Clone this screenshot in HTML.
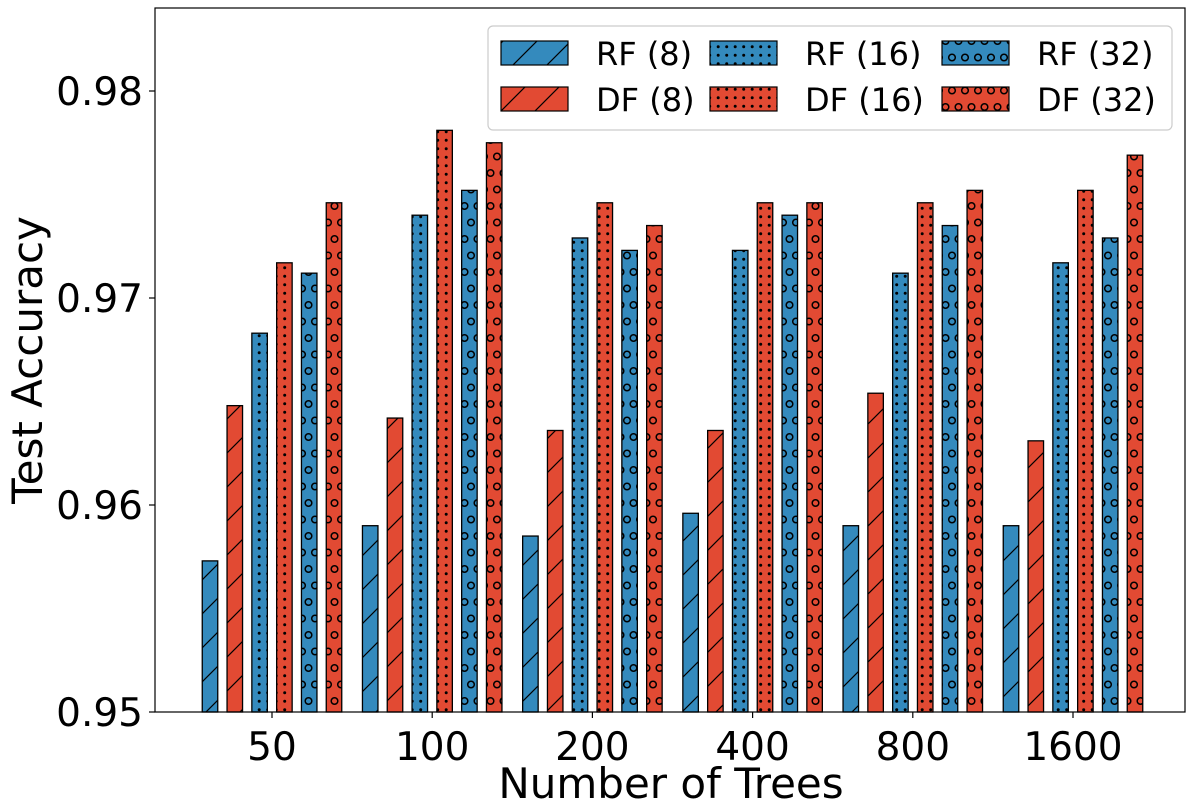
<!DOCTYPE html>
<html><head><meta charset="utf-8"><style>
body{margin:0;background:#fff;}
svg text{font-family:"DejaVu Sans","Liberation Sans",sans-serif;}
</style></head><body>
<svg id="chart" width="1200" height="800" xmlns="http://www.w3.org/2000/svg">
<defs>
<pattern id="h8" patternUnits="userSpaceOnUse" width="34" height="34"><path d="M-2,36 L36,-2 M-19,19 L19,-19 M15,53 L53,15" stroke="#000" stroke-width="1.2"/></pattern>
<pattern id="h16" patternUnits="userSpaceOnUse" width="8.5" height="8.5"><circle cx="4.2" cy="4.2" r="1.5" fill="#000"/></pattern>
<pattern id="h32" patternUnits="userSpaceOnUse" width="13" height="33" x="3"><circle cx="6.5" cy="8" r="3.3" fill="none" stroke="#000" stroke-width="1.5"/><circle cx="0" cy="24.5" r="3.3" fill="none" stroke="#000" stroke-width="1.5"/><circle cx="13" cy="24.5" r="3.3" fill="none" stroke="#000" stroke-width="1.5"/></pattern>
</defs>
<g id="bars"></g>
<g id="axes"></g>
</svg>
<script>
const categories=["50","100","200","400","800","1600"];
const rf8=[0.9573,0.9590,0.9585,0.9596,0.9590,0.9590];
const df8=[0.9648,0.9642,0.9636,0.9636,0.9654,0.9631];
const rf16=[0.9683,0.9740,0.9729,0.9723,0.9712,0.9717];
const df16=[0.9717,0.9781,0.9746,0.9746,0.9746,0.9752];
const rf32=[0.9712,0.9752,0.9723,0.9740,0.9735,0.9729];
const df32=[0.9746,0.9775,0.9735,0.9746,0.9752,0.9769];
const yTicks=[0.95,0.96,0.97,0.98];
const seriesNames=["RF (8)","DF (8)","RF (16)","DF (16)","RF (32)","DF (32)"];
const series=[rf8,df8,rf16,df16,rf32,df32];
const NS="http://www.w3.org/2000/svg";
const L=155,R=1185,T=8,B=712;
const BLUE="#348ABD",RED="#E24A33";
const colors=[BLUE,RED,BLUE,RED,BLUE,RED];
const fills=["h8","h8","h16","h16","h32","h32"];
function y(v){return B-(v-0.95)/0.01*207;}
function xc(i){return 272+i*160.2;}
function el(tag,attrs,parent){const e=document.createElementNS(NS,tag);for(const k in attrs)e.setAttribute(k,attrs[k]);parent.appendChild(e);return e;}
const bars=document.getElementById('bars'),axes=document.getElementById('axes');
const step=24.8,bw=15.5;
series.forEach((s,si)=>{s.forEach((v,i)=>{
  const x=xc(i)+(si-2.5)*step-bw/2;
  const g=el('g',{},bars);
  
  
  el('rect',{x:x,y:y(v),width:bw,height:B-y(v),fill:colors[si]},g);
  el('rect',{x:x,y:y(v),width:bw,height:B-y(v),fill:'url(#'+fills[si]+')',stroke:'#000','stroke-width':1.3},g);
});});
const frame=el('rect',{x:L,y:T,width:R-L,height:B-T,fill:'none',stroke:'#000','stroke-width':1.2},axes);


yTicks.forEach(t=>{
  el('line',{x1:L-6,x2:L,y1:y(t),y2:y(t),stroke:'#000','stroke-width':1.2},axes);
  const tx=el('text',{x:L-12,y:y(t)+14,'text-anchor':'end','font-size':39},axes);
  tx.textContent=t.toFixed(2);
  
  
});
categories.forEach((c,i)=>{
  el('line',{x1:xc(i),x2:xc(i),y1:B,y2:B+6,stroke:'#000','stroke-width':1.2},axes);
  const tx=el('text',{x:xc(i),y:B+48,'text-anchor':'middle','font-size':39},axes);
  tx.textContent=c;
  
  
});
const xl=el('text',{x:671,y:798,'text-anchor':'middle','font-size':42},axes);
xl.textContent="Number of Trees";


const yl=el('text',{x:0,y:0,'text-anchor':'middle','font-size':42,transform:'translate(42,360) rotate(-90)'},axes);
yl.textContent="Test Accuracy";


const lg=el('g',{},axes);


el('rect',{x:488,y:26,width:684,height:104,rx:5,fill:'#fff','fill-opacity':0.8,stroke:'#ccc','stroke-width':1.2},lg);
const colX=[501,710,942];
series.forEach((s,si)=>{
  const col=Math.floor(si/2),row=si%2;
  const px=colX[col],py=row?87:41;
  const e=el('g',{},lg);
  
  
  el('rect',{x:px,y:py,width:67,height:24,fill:colors[si]},e);
  el('rect',{x:px,y:py,width:67,height:24,fill:'url(#'+fills[si]+')',stroke:'#000','stroke-width':1.2},e);
  const t=el('text',{x:px+95,y:py+24,'font-size':32},e);
  t.textContent=seriesNames[si];
});
</script>
</body></html>
